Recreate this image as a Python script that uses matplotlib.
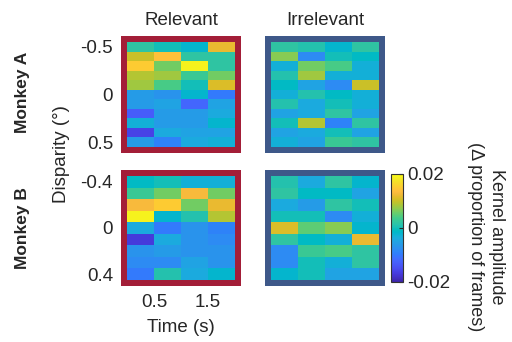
import numpy as np
import matplotlib
matplotlib.use("Agg")
import matplotlib.pyplot as plt
from matplotlib.colors import LinearSegmentedColormap
from matplotlib.patches import Rectangle

plt.rcParams['font.family'] = ['Liberation Sans', 'DejaVu Sans']
TXT = '#262626'

# ---- data (kernel amplitude, rows = disparity, cols = time bins) ----
disp_a = [-0.5, -0.4, -0.3, -0.2, -0.1, 0.0, 0.1, 0.2, 0.3, 0.4, 0.5]
disp_b = [-0.4, -0.3, -0.2, -0.1, 0.0, 0.1, 0.2, 0.3, 0.4]
time_edges = [0.0, 0.5, 1.0, 1.5, 2.0]
col_titles = ["Relevant", "Irrelevant"]
row_titles = ["Monkey A", "Monkey B"]

a_relevant = [
    [0.002, 0.000, -0.002, 0.012],
    [0.010, 0.014, 0.002, 0.002],
    [0.015, 0.006, 0.019, 0.002],
    [0.009, 0.008, 0.003, 0.006],
    [0.008, 0.004, 0.000, 0.011],
    [-0.006, -0.007, -0.002, -0.010],
    [-0.006, -0.005, -0.012, -0.005],
    [-0.013, -0.006, -0.006, -0.004],
    [-0.003, -0.006, -0.006, -0.002],
    [-0.016, -0.004, -0.005, -0.005],
    [-0.006, -0.009, -0.004, -0.003],
]
a_irrelevant = [
    [0.002, 0.001, -0.002, 0.002],
    [0.007, -0.008, 0.000, -0.001],
    [-0.003, 0.006, 0.004, -0.003],
    [0.001, 0.008, -0.003, -0.003],
    [-0.001, -0.005, -0.008, 0.010],
    [-0.003, 0.001, -0.001, -0.003],
    [0.001, -0.004, 0.000, -0.003],
    [-0.005, -0.004, 0.002, -0.005],
    [0.000, 0.009, -0.009, 0.002],
    [-0.005, -0.004, 0.000, -0.005],
    [-0.003, -0.005, 0.003, 0.002],
]
b_relevant = [
    [-0.001, 0.000, -0.003, -0.003],
    [0.003, 0.006, 0.013, 0.006],
    [0.013, 0.015, 0.006, 0.012],
    [0.019, -0.002, 0.001, 0.009],
    [-0.004, -0.010, -0.007, -0.009],
    [-0.017, -0.004, -0.007, -0.008],
    [-0.007, -0.006, -0.007, -0.007],
    [-0.008, -0.008, -0.005, -0.007],
    [-0.010, 0.001, -0.004, -0.002],
]
b_irrelevant = [
    [0.001, -0.004, 0.002, -0.002],
    [0.002, -0.001, -0.001, -0.005],
    [-0.004, -0.006, 0.002, 0.000],
    [0.000, 0.000, -0.008, -0.003],
    [0.011, 0.005, 0.007, -0.002],
    [0.002, -0.001, -0.003, 0.012],
    [-0.008, 0.003, 0.004, 0.002],
    [-0.008, 0.000, -0.003, 0.002],
    [-0.002, 0.000, -0.005, -0.005],
]
vmin, vmax = -0.02, 0.02

# parula colormap (64 entries)
parula_pts = [
    (0.2422, 0.1504, 0.6603), (0.2504, 0.1650, 0.7076), (0.2578, 0.1818, 0.7511),
    (0.2647, 0.1978, 0.7952), (0.2706, 0.2147, 0.8364), (0.2751, 0.2342, 0.8710),
    (0.2783, 0.2559, 0.8991), (0.2803, 0.2782, 0.9221), (0.2813, 0.3006, 0.9414),
    (0.2810, 0.3228, 0.9579), (0.2795, 0.3447, 0.9717), (0.2760, 0.3667, 0.9829),
    (0.2699, 0.3892, 0.9906), (0.2602, 0.4123, 0.9952), (0.2440, 0.4358, 0.9988),
    (0.2206, 0.4603, 0.9973), (0.1963, 0.4847, 0.9892), (0.1834, 0.5074, 0.9798),
    (0.1786, 0.5289, 0.9682), (0.1764, 0.5499, 0.9520), (0.1687, 0.5703, 0.9359),
    (0.1540, 0.5902, 0.9218), (0.1460, 0.6091, 0.9079), (0.1380, 0.6276, 0.8973),
    (0.1248, 0.6459, 0.8883), (0.1113, 0.6635, 0.8763), (0.0952, 0.6798, 0.8598),
    (0.0689, 0.6948, 0.8394), (0.0297, 0.7082, 0.8163), (0.0036, 0.7203, 0.7917),
    (0.0067, 0.7312, 0.7660), (0.0433, 0.7411, 0.7394), (0.0964, 0.7500, 0.7120),
    (0.1408, 0.7584, 0.6842), (0.1717, 0.7670, 0.6554), (0.1938, 0.7758, 0.6251),
    (0.2161, 0.7843, 0.5923), (0.2470, 0.7918, 0.5567), (0.2906, 0.7973, 0.5188),
    (0.3406, 0.8008, 0.4789), (0.3909, 0.8029, 0.4354), (0.4456, 0.8024, 0.3909),
    (0.5044, 0.7993, 0.3480), (0.5616, 0.7942, 0.3045), (0.6174, 0.7876, 0.2612),
    (0.6720, 0.7793, 0.2227), (0.7242, 0.7698, 0.1910), (0.7738, 0.7598, 0.1646),
    (0.8203, 0.7498, 0.1535), (0.8634, 0.7406, 0.1596), (0.9035, 0.7330, 0.1774),
    (0.9393, 0.7288, 0.2100), (0.9728, 0.7298, 0.2394), (0.9956, 0.7434, 0.2371),
    (0.9970, 0.7659, 0.2199), (0.9952, 0.7893, 0.2028), (0.9892, 0.8136, 0.1885),
    (0.9786, 0.8386, 0.1766), (0.9676, 0.8639, 0.1643), (0.9610, 0.8890, 0.1537),
    (0.9597, 0.9135, 0.1423), (0.9628, 0.9373, 0.1265), (0.9691, 0.9606, 0.1064),
    (0.9769, 0.9839, 0.0805),
]
parula = LinearSegmentedColormap.from_list('parula', parula_pts)

W, H = 512, 342
fig = plt.figure(figsize=(W / 100, H / 100), dpi=100)

def rect(x0, y0, x1, y1):
    return [x0 / W, 1 - y1 / H, (x1 - x0) / W, (y1 - y0) / H]

FR = 6
RED = '#A31E38'
BLUE = '#3E5889'
panels = [
    (a_relevant, disp_a, (127, 42, 235, 147), RED, 0, 0),
    (a_irrelevant, disp_a, (271, 42, 379, 147), BLUE, 0, 1),
    (b_relevant, disp_b, (127, 176, 235, 280), RED, 1, 0),
    (b_irrelevant, disp_b, (271, 176, 379, 280), BLUE, 1, 1),
]
im = None
for data, disp, (x0, y0, x1, y1), fc, r, c in panels:
    fig.patches.append(Rectangle(((x0 - FR) / W, 1 - (y1 + FR) / H),
                                 (x1 - x0 + 2 * FR) / W, (y1 - y0 + 2 * FR) / H,
                                 transform=fig.transFigure, facecolor=fc,
                                 edgecolor='none', zorder=-1))
    ax = fig.add_axes(rect(x0, y0, x1, y1))
    step = disp[1] - disp[0]
    im = ax.imshow(np.array(data), cmap=parula, vmin=vmin, vmax=vmax,
                   aspect='auto', interpolation='nearest',
                   extent=(time_edges[0], time_edges[-1],
                           disp[-1] + step / 2, disp[0] - step / 2))
    for s in ax.spines.values():
        s.set_visible(False)
    ax.tick_params(length=0, labelsize=13.5, colors=TXT, pad=10)
    if c == 0:
        ticks = [disp[0], 0.0, disp[-1]]
        ax.set_yticks(ticks)
        ax.set_yticklabels(['%g' % t for t in ticks])
    else:
        ax.set_yticks([])
    if r == 1 and c == 0:
        ax.set_xticks([0.5, 1.5])
        ax.set_xticklabels(['0.5', '1.5'])
        ax.set_xlabel('Time (s)', fontsize=13.5, color=TXT, labelpad=6)
    else:
        ax.set_xticks([])
    if r == 0:
        ax.set_title(col_titles[c], fontsize=13.5, color=TXT, pad=12)

# row labels
fig.text(23 / W, 1 - 92 / H, row_titles[0], rotation=90, ha='center', va='center',
         fontsize=12.5, fontweight='bold', color=TXT)
fig.text(23 / W, 1 - 228 / H, row_titles[1], rotation=90, ha='center', va='center',
         fontsize=12.5, fontweight='bold', color=TXT)
fig.text(61 / W, 1 - 154 / H, 'Disparity (°)', rotation=90, ha='center', va='center',
         fontsize=13.5, color=TXT)

# colorbar
cax = fig.add_axes(rect(391, 174, 403, 282))
cb = fig.colorbar(im, cax=cax, ticks=[-0.02, 0, 0.02])
cb.ax.set_yticklabels(['-0.02', '0', '0.02'])
cb.outline.set_edgecolor('#333333')
cb.outline.set_linewidth(0.8)
cax.tick_params(labelsize=13.5, colors=TXT, length=3, direction='in', width=0.8, pad=3)
fig.text(486 / W, 1 - 237 / H, 'Kernel amplitude\n(Δ proportion of frames)', rotation=-90,
         ha='center', va='center', fontsize=13, color=TXT, linespacing=1.25,
         multialignment='center')

fig.savefig('out.png', dpi=100)
